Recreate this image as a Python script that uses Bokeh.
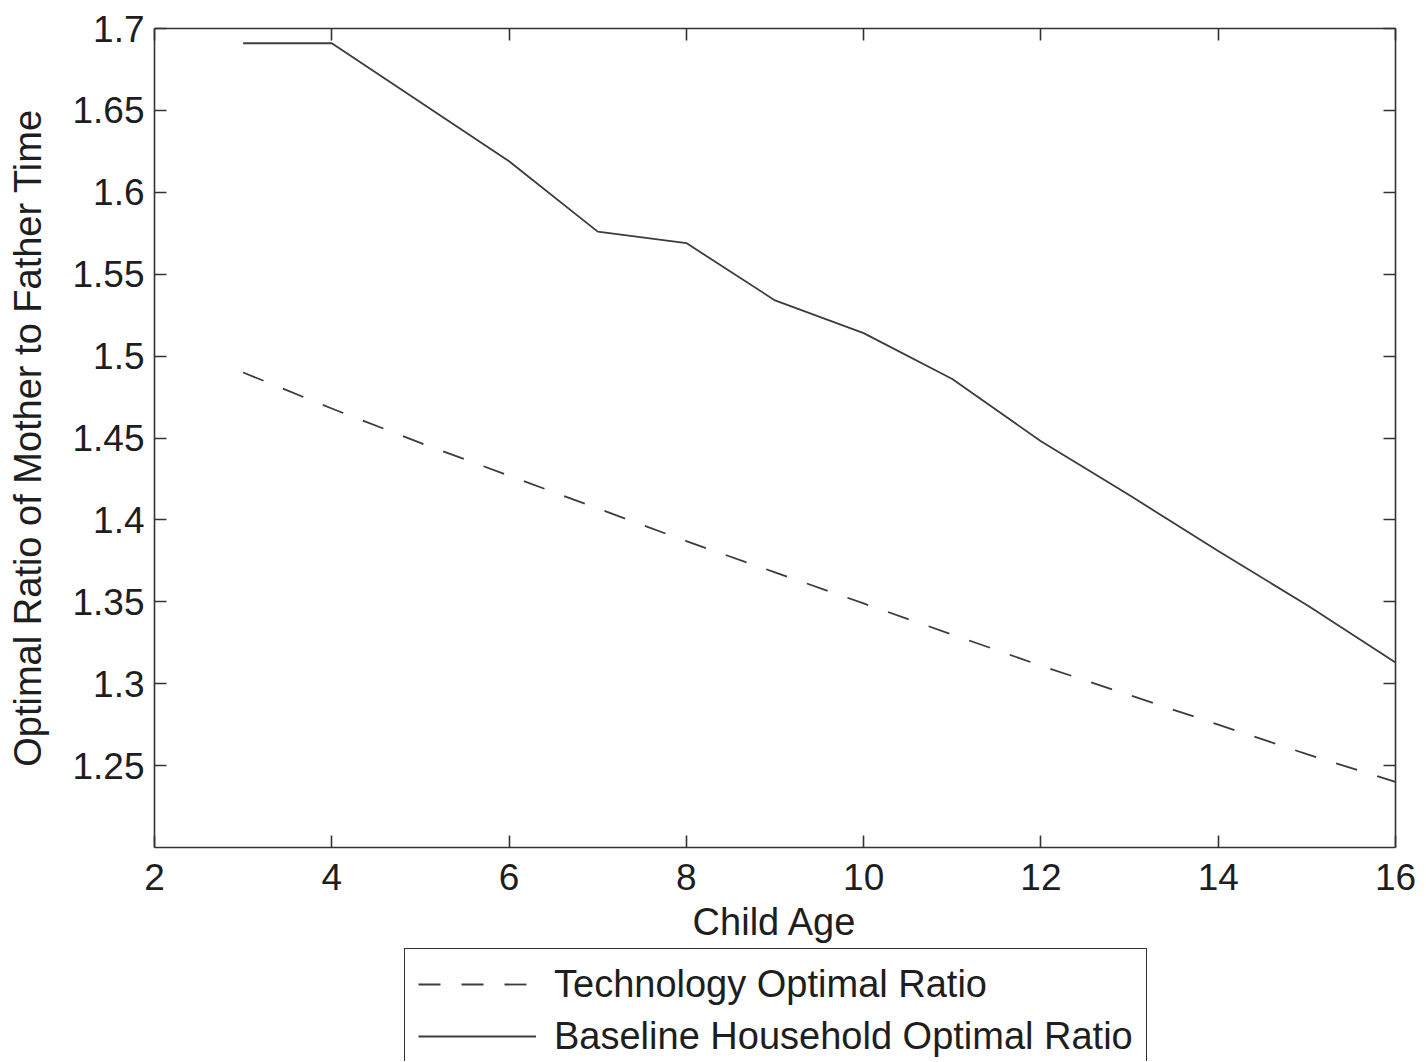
from bokeh.plotting import figure
from bokeh.layouts import column
from bokeh.models import LinearAxis, FixedTicker, Legend, LegendItem, Range1d
from bokeh.embed import file_html
from bokeh.resources import INLINE

# ---- data ----
age = [3, 4, 5, 6, 7, 8, 9, 10, 11, 12, 13, 14, 15, 16]
technology_ratio = [1.490, 1.468, 1.447, 1.427, 1.407, 1.387, 1.368,
                    1.349, 1.330, 1.311, 1.293, 1.275, 1.257, 1.240]
baseline_ratio = [1.691, 1.691, 1.655, 1.619, 1.576, 1.569, 1.534,
                  1.514, 1.486, 1.448, 1.415, 1.381, 1.348, 1.313]
x_ticks = [2, 4, 6, 8, 10, 12, 14, 16]
y_ticks = [1.25, 1.3, 1.35, 1.4, 1.45, 1.5, 1.55, 1.6, 1.65, 1.7]
series_labels = ["Technology Optimal Ratio", "Baseline Household Optimal Ratio"]

FONT = "Liberation Sans"
TXT = "#1e1e1e"
AX = "#333333"
LINE = "#3c3c3c"
DASH = "22 21"

p = figure(frame_width=1241, frame_height=819,
           x_range=Range1d(2, 16), y_range=Range1d(1.2, 1.7),
           output_backend="svg", toolbar_location=None,
           x_axis_label="Child Age",
           y_axis_label="Optimal Ratio of Mother to Father Time",
           min_border_left=154, min_border_right=23,
           min_border_top=28, min_border_bottom=100)
p.grid.visible = False
p.outline_line_color = None
p.background_fill_color = "white"
p.border_fill_color = "white"

def style_axis(ax, ticks, show_labels=True):
    ax.ticker = FixedTicker(ticks=ticks)
    ax.axis_line_color = AX
    ax.axis_line_width = 1.6
    ax.major_tick_line_color = AX
    ax.major_tick_line_width = 1.6
    ax.major_tick_in = 12
    ax.major_tick_out = 0
    ax.minor_tick_line_color = None
    ax.major_label_text_font = FONT
    ax.major_label_text_color = TXT
    ax.major_label_text_font_size = "37px"
    ax.major_label_standoff = 10
    ax.axis_label_text_font = FONT
    ax.axis_label_text_font_size = "38px"
    ax.axis_label_text_font_style = "normal"
    ax.axis_label_text_color = TXT
    if not show_labels:
        ax.major_label_overrides = {t: "" for t in ticks}
        ax.major_label_text_font_size = "1px"
        ax.major_label_standoff = 0

style_axis(p.xaxis[0], x_ticks)
style_axis(p.yaxis[0], y_ticks)
p.xaxis[0].major_label_standoff = 16
p.xaxis[0].axis_label_standoff = 8
p.yaxis[0].axis_label_standoff = 20

top_ax = LinearAxis()
style_axis(top_ax, x_ticks, show_labels=False)
p.add_layout(top_ax, "above")
right_ax = LinearAxis()
style_axis(right_ax, y_ticks, show_labels=False)
p.add_layout(right_ax, "right")

p.line(age, technology_ratio, line_color=LINE, line_width=1.8, line_dash=DASH)
p.line(age, baseline_ratio, line_color=LINE, line_width=1.8)

# ---- legend strip below the plot (its lines lie outside its own ranges) ----
p2 = figure(width=1418, height=114, x_axis_type=None, y_axis_type=None,
            x_range=Range1d(0, 1), y_range=Range1d(0, 1),
            output_backend="svg", toolbar_location=None,
            min_border_left=0, min_border_right=0,
            min_border_top=0, min_border_bottom=0)
p2.grid.visible = False
p2.outline_line_color = None
p2.background_fill_color = "white"
p2.border_fill_color = "white"
g_tech = p2.line(age, technology_ratio, line_color=LINE, line_width=1.8, line_dash=DASH)
g_base = p2.line(age, baseline_ratio, line_color=LINE, line_width=1.8)

legend = Legend(items=[LegendItem(label=series_labels[0], renderers=[g_tech]),
                       LegendItem(label=series_labels[1], renderers=[g_base])],
                orientation="vertical", location=(250, -11),
                label_text_font=FONT, label_text_font_size="38px",
                label_text_color=TXT, glyph_width=118, glyph_height=44,
                label_height=44, label_standoff=18, spacing=8, padding=13,
                margin=0, border_line_color=AX, border_line_width=1.6,
                border_line_alpha=1.0, background_fill_alpha=1.0)
p2.add_layout(legend, "center")

layout = column(p, p2, spacing=0)
open("out.html", "w").write(file_html(layout, INLINE))
